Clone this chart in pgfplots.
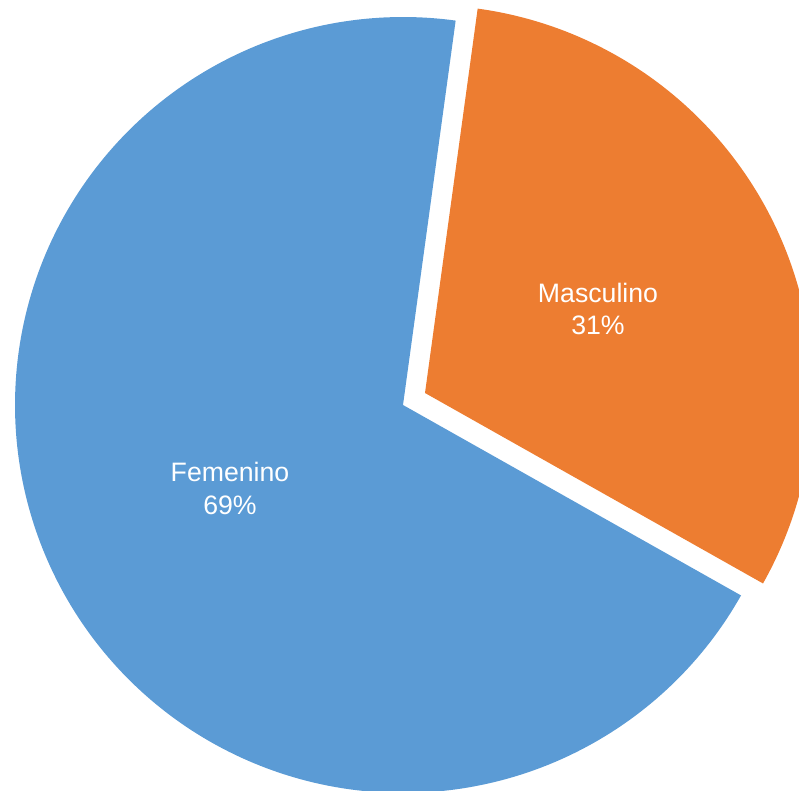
\documentclass[border=0pt]{standalone}
\usepackage{pgfplots}
\pgfplotsset{compat=1.18}
\usepackage{pgfplotstable}
\usepackage{fontspec}
\setmainfont{Liberation Sans}
\definecolor{fem}{HTML}{5B9BD5}
\definecolor{mas}{HTML}{ED7D31}
% share in percent
\pgfplotstableread{
label value
Femenino 69
Masculino 31
}\piedata
\pgfplotstablegetelem{0}{value}\of\piedata \let\vF\pgfplotsretval
\pgfplotstablegetelem{1}{value}\of\piedata \let\vM\pgfplotsretval
\pgfmathsetmacro{\startA}{82.2}
\pgfmathsetmacro{\endF}{\startA+3.6*\vF}
\pgfmathsetmacro{\startM}{\startA-3.6*\vM}
\begin{document}
\begin{tikzpicture}
\begin{axis}[
  scale only axis, width=599.25pt, height=593.25pt,
  xmin=0, xmax=799, ymin=0, ymax=791,
  hide axis, clip=true,
]
\addplot[fill=fem, draw=none, domain=\startA:\endF, samples=240, variable=\t]
  ({403+388*cos(\t)}, {386+388*sin(\t)}) -- (axis cs:403,386) -- cycle;
\addplot[fill=mas, draw=none, domain=\startM:\startA, samples=120, variable=\t]
  ({425+388*cos(\t)}, {398+388*sin(\t)}) -- (axis cs:425,398) -- cycle;
\node[white, font=\fontsize{20pt}{24pt}\selectfont, anchor=base] at (axis cs:598,488) {Masculino};
\node[white, font=\fontsize{20pt}{24pt}\selectfont, anchor=base] at (axis cs:598,456) {31\%};
\node[white, font=\fontsize{20pt}{24pt}\selectfont, anchor=base] at (axis cs:230,309) {Femenino};
\node[white, font=\fontsize{20pt}{24pt}\selectfont, anchor=base] at (axis cs:230,276) {69\%};
\end{axis}
\useasboundingbox (current axis.south west) rectangle (current axis.north east);
\end{tikzpicture}
\end{document}
